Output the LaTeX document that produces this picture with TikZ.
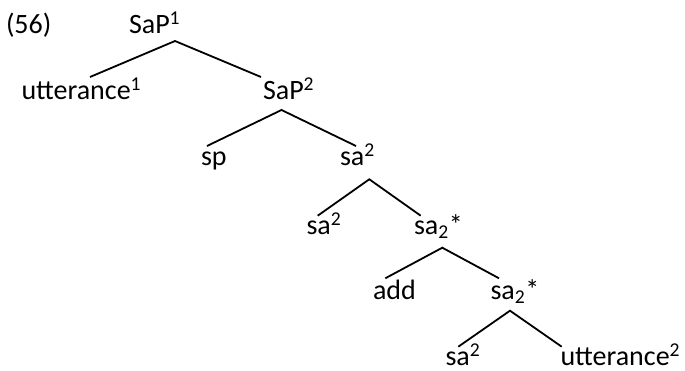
\documentclass[tikz,border=0pt]{standalone}
\usepackage{fontspec}
\setmainfont{Carlito}
\begin{document}
\begin{tikzpicture}[x=1pt,y=-1pt,
  lbl/.style={anchor=base west,inner sep=0pt,outer sep=0pt,font=\fontsize{28}{32}\selectfont},
  bottomlbl/.style={lbl,text depth=0pt},
  edge/.style={line width=1.8pt,line cap=butt}]
\useasboundingbox (0,0) rectangle (685,371);
% labels
\node[lbl] (ex)   at (6,34)     {(56)};
\node[lbl] (sap1) at (129,34)   {SaP\textsuperscript{1}};
\node[lbl] (utt1) at (21.5,100) {utterance\textsuperscript{1}};
\node[lbl] (sap2) at (263,100)  {SaP\textsuperscript{2}};
\node[lbl] (sp)   at (201,165.5)  {sp};
\node[lbl] (sa2a) at (340,166)  {sa\textsuperscript{2}};
\node[lbl] (sa2b) at (306.5,234.3) {sa\textsuperscript{2}};
\node[lbl] (sas1) at (414,234.3) {sa\textsubscript{2}*};
\node[lbl] (add)  at (373,299.3) {add};
\node[lbl] (sas2) at (490.5,299.3) {sa\textsubscript{2}*};
\node[bottomlbl] (sa2c) at (445.5,365.5) {sa\textsuperscript{2}};
\node[bottomlbl] (utt2) at (560.5,365.5) {utterance\textsuperscript{2}};
% branch points
\coordinate (t1) at (175,41);   \coordinate (l1) at (90,77);    \coordinate (r1) at (261,77);
\coordinate (t2) at (281.5,110);\coordinate (l2) at (207,146);   \coordinate (r2) at (356,146);
\coordinate (t3) at (369.3,179.3);\coordinate (l3) at (317.7,215.7);\coordinate (r3) at (420.7,215.7);
\coordinate (t4) at (442.3,247.7);\coordinate (l4) at (385.3,278.3);\coordinate (r4) at (499,278.3);
\coordinate (t5) at (510,310.7);\coordinate (l5) at (458.3,346.7);\coordinate (r5) at (561.7,346.7);
\draw[edge] (l1) -- (t1) -- (r1);
\draw[edge] (l2) -- (t2) -- (r2);
\draw[edge] (l3) -- (t3) -- (r3);
\draw[edge] (l4) -- (t4) -- (r4);
\draw[edge] (l5) -- (t5) -- (r5);
\end{tikzpicture}
\end{document}
